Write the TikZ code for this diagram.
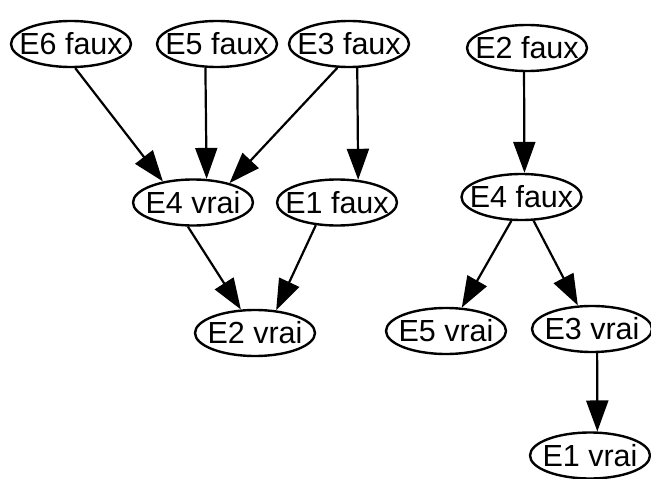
\documentclass[tikz,border=0pt]{standalone}
\usepackage{fontspec}
\setmainfont{Liberation Sans}
\usetikzlibrary{arrows.meta,shapes.geometric}
\tikzset{
  state/.style={draw, line width=2.4pt, ellipse, minimum width=120pt, minimum height=46pt,
    inner xsep=-20pt, inner ysep=-6pt, font=\fontsize{30.5}{30.5}\selectfont},
  arr/.style={line width=2.2pt, -{Triangle[length=31pt, width=22pt]}}
}
\begin{document}
\begin{tikzpicture}[x=1pt, y=-1pt]
\useasboundingbox (0,0) rectangle (651,479);

% left graph
\node[state] (e6f) at (71,44) {E6 faux};
\node[state] (e5f) at (217,44) {E5 faux};
\node[state] (e3f) at (349,44) {E3 faux};
\node[state] (e4v) at (193,202.5) {E4 vrai};
\node[state] (e1f) at (337,202.5) {E1 faux};
\node[state] (e2v) at (255,333) {E2 vrai};

% right graph
\node[state] (e2f) at (527,48) {E2 faux};
\node[state] (e4f) at (521.5,197) {E4 faux};
\node[state] (e5v) at (446,331) {E5 vrai};
\node[state] (e3v) at (592,329) {E3 vrai};
\node[state] (e1v) at (590,455.5) {E1 vrai};

% edges, left graph
\draw[arr] (e6f.280) -- (e4v.145);
\draw[arr] (e5f.244) -- (e4v.60);
\draw[arr] (e3f.244) -- (e4v.28);
\draw[arr] (e3f.289) -- (e1f.47);
\draw[arr] (e4v.258) -- (e2v.121);
\draw[arr] (e1f.227) -- (e2v.47);

% edges, right graph
\draw[arr] (e2f.263) -- (e4f.83);
\draw[arr] (e4f.247) -- (e5v.56);
\draw[arr] (e4f.297) -- (e3v.121);
\draw[arr] (e3v.282) -- (e1v.73);
\end{tikzpicture}
\end{document}
